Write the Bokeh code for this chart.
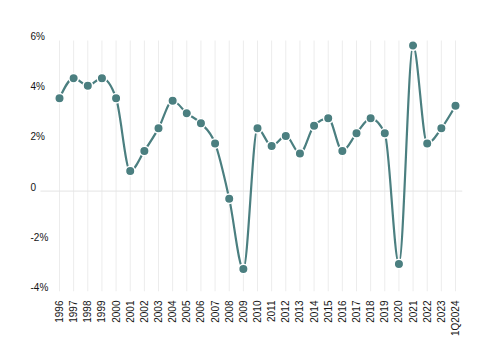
import numpy as np
from bokeh.plotting import figure
from bokeh.models import FixedTicker, Range1d, ColumnDataSource, Label
from bokeh.embed import file_html
from bokeh.resources import INLINE

categories = ["1996", "1997", "1998", "1999", "2000", "2001", "2002", "2003", "2004",
              "2005", "2006", "2007", "2008", "2009", "2010", "2011", "2012", "2013",
              "2014", "2015", "2016", "2017", "2018", "2019", "2020", "2021", "2022",
              "2023", "1Q2024"]
growth = [3.7, 4.5, 4.2, 4.5, 3.7, 0.8, 1.6, 2.5, 3.6,
          3.1, 2.7, 1.9, -0.3, -3.1, 2.5, 1.8, 2.2, 1.5,
          2.6, 2.9, 1.6, 2.3, 2.9, 2.3, -2.9, 5.8, 1.9,
          2.5, 3.4]
y_ticks = [-4, -2, 0, 2, 4, 6]
y_tick_labels = ["-4%", "-2%", "0", "2%", "4%", "6%"]

TEAL = "#4b7f80"
TEXT = "#141414"
FONT = "Liberation Sans"

# layout (pixels)
PX_X = 14.14          # pixels per category step
PX_Y = 25.1           # pixels per 1%
PAD_L, PAD_R = 19, 7  # plot-area padding around first/last category
LABEL_GUTTER = 14     # room left of the plot area for the value labels
TOP_ROOM = 14         # room above the top value for its label

Y_MIN, Y_MAX = -4, 6
n = len(categories)
plot_lo = -PAD_L / PX_X                  # left edge of the drawn plot area (data units)
plot_hi = (n - 1) + PAD_R / PX_X
X_START = plot_lo - LABEL_GUTTER / PX_X
frame_w = int(round((plot_hi - X_START) * PX_X))
Y_TOP = Y_MAX + TOP_ROOM / PX_Y
frame_h = int(round((Y_TOP - Y_MIN) * PX_Y))

xs = np.arange(n, dtype=float)
ys = np.array(growth, dtype=float)

# monotone-x cubic tangents (as in d3.curveMonotoneX)
t = np.zeros(n)
for i in range(1, n - 1):
    h0 = xs[i] - xs[i - 1]
    h1 = xs[i + 1] - xs[i]
    s0 = (ys[i] - ys[i - 1]) / h0
    s1 = (ys[i + 1] - ys[i]) / h1
    pm = (s0 * h1 + s1 * h0) / (h0 + h1)
    t[i] = (np.sign(s0) + np.sign(s1)) * min(abs(s0), abs(s1), 0.5 * abs(pm))
h = xs[1] - xs[0]
t[0] = (3 * (ys[1] - ys[0]) / h - t[1]) / 2
h = xs[-1] - xs[-2]
t[-1] = (3 * (ys[-1] - ys[-2]) / h - t[-2]) / 2

dx = xs[1:] - xs[:-1]
seg = ColumnDataSource(dict(
    x0=xs[:-1], y0=ys[:-1], x1=xs[1:], y1=ys[1:],
    cx0=xs[:-1] + dx / 3, cy0=ys[:-1] + dx * t[:-1] / 3,
    cx1=xs[1:] - dx / 3, cy1=ys[1:] - dx * t[1:] / 3,
))

p = figure(frame_width=frame_w, frame_height=frame_h, output_backend="svg", toolbar_location=None,
           x_range=Range1d(X_START, plot_hi), y_range=Range1d(Y_MIN, Y_TOP),
           min_border_left=26, min_border_right=30, min_border_top=26, min_border_bottom=20)
p.outline_line_color = None
p.background_fill_color = "white"
p.xgrid.visible = False
p.ygrid.visible = False

# grid lines limited to the plot area
p.segment(x0=xs, y0=[Y_MIN] * n, x1=xs, y1=[Y_MAX] * n, line_color="#ececec", line_width=1)
p.segment(x0=[plot_lo], y0=[0], x1=[plot_hi], y1=[0], line_color="#e4e4e4", line_width=1)

p.bezier(x0="x0", y0="y0", x1="x1", y1="y1", cx0="cx0", cy0="cy0", cx1="cx1", cy1="cy1",
         source=seg, line_color=TEAL, line_width=2.2)
p.scatter(xs, ys, size=9.5, fill_color=TEAL, line_color="white", line_width=1.5)

# x axis
p.xaxis.ticker = FixedTicker(ticks=list(range(n)))
p.xaxis.major_label_overrides = {i: c for i, c in enumerate(categories)}
p.xaxis.major_label_orientation = np.pi / 2
p.xaxis.axis_line_color = None
p.xaxis.major_tick_line_color = None
p.xaxis.minor_tick_line_color = None
p.xaxis.major_label_standoff = 3
p.xaxis.major_label_text_font = FONT
p.xaxis.major_label_text_font_size = "10px"
p.xaxis.major_label_text_color = TEXT

# y value labels: left-aligned, sitting just above each value
p.yaxis.visible = False
label_x = X_START + 4 / PX_X
for v, txt in zip(y_ticks, y_tick_labels):
    p.add_layout(Label(x=label_x, y=v, text=txt, text_align="left", text_baseline="middle",
                       y_offset=4, text_font=FONT, text_font_size="10px",
                       text_color=TEXT))

open("out.html", "w").write(file_html(p, INLINE))
